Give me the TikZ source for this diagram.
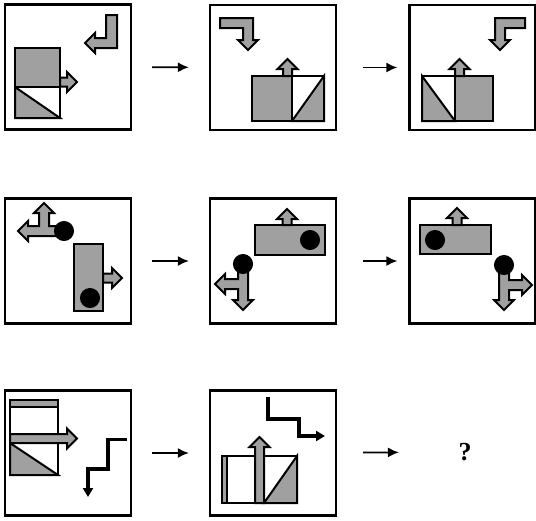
\documentclass[tikz,border=0pt]{standalone}
\usepackage{fontspec}
\setmainfont{Liberation Serif}
\usetikzlibrary{arrows.meta}
\definecolor{tilegray}{RGB}{160,160,160}

\begin{document}
\begin{tikzpicture}[x=1pt, y=-1pt,
    panel/.style={draw, line width=2.2pt, minimum width=126pt, minimum height=125pt, inner sep=0pt},
    piece/.style={draw, fill=tilegray, line width=2pt, line join=miter},
    hole/.style={draw, fill=white, line width=2pt},
    blob/.style={draw, fill=black, line width=1pt},
    stair/.style={line width=3.8pt, -{Triangle[length=9pt,width=10pt]}},
    flow/.style={-{Latex[length=11pt,width=10pt]}, line width=1.8pt, shorten <=20pt, shorten >=20pt},
    fatarrow/.pic={\draw[piece] (0,-4.5) -- ({#1-10},-4.5) -- ({#1-10},-10) -- (#1,0) -- ({#1-10},10) -- ({#1-10},4.5) -- (0,4.5) -- cycle;}
]
\useasboundingbox (0,0) rectangle (536,520);

% panels
\node[panel] (a1) at (68,67) {};
\node[panel] (a2) at (273,67.5) {};
\node[panel] (a3) at (472.5,67.5) {};
\node[panel] (b1) at (68,261) {};
\node[panel] (b2) at (273,261) {};
\node[panel] (b3) at (472.5,261) {};
\node[panel] (c1) at (68,453) {};
\node[panel] (c2) at (273,453) {};
\node[font=\fontsize{26}{30}\selectfont\bfseries] (c3) at (465,452) {?};

% row 1
\draw[piece] (15,48) rectangle (60,87);
\draw[hole] (15,87) rectangle (60,118);
\draw[piece] (15,87) -- (60,118) -- (15,118) -- cycle;
\pic at (60,82) {fatarrow=17};
\draw[piece] (106,15) -- (117,15) -- (117,48) -- (95,48) -- (95,53) -- (85,43) -- (95,33) -- (95,38) -- (106,38) -- cycle;

\draw[piece] (252,76) rectangle (292,121);
\draw[hole] (292,76) rectangle (324,121);
\draw[piece] (292,121) -- (324,76) -- (324,121) -- cycle;
\pic[rotate=90] at (287.5,76) {fatarrow=17};
\draw[piece] (220,18) -- (253,18) -- (253,40) -- (258,40) -- (248,50) -- (238,40) -- (243,40) -- (243,28) -- (220,28) -- cycle;

\draw[hole] (422,76) rectangle (455,121);
\draw[piece] (422,76) -- (455,121) -- (422,121) -- cycle;
\draw[piece] (455,76) rectangle (493,121);
\pic[rotate=90] at (459.5,76) {fatarrow=17};
\draw[piece] (525,18) -- (495,18) -- (495,40) -- (490,40) -- (500,50) -- (510,40) -- (505,40) -- (505,28) -- (525,28) -- cycle;

% row 2
\draw[piece] (64,226) -- (49,226) -- (49,213) -- (54,213) -- (44,203) -- (34,213) -- (39,213) -- (39,226) -- (28,226) -- (28,221) -- (18,231) -- (28,241) -- (28,236) -- (64,236) -- cycle;
\draw[blob] (64,231) circle (9.5);
\draw[piece] (74,244) rectangle (103,311);
\draw[blob] (90,298) circle (9.5);
\pic at (103,278) {fatarrow=19};

\draw[piece] (255,225) rectangle (325,255);
\draw[blob] (310,240) circle (9.5);
\pic[rotate=90] at (287,225) {fatarrow=16};
\draw[piece] (238,264) -- (248,264) -- (248,300) -- (253,300) -- (243,310) -- (233,300) -- (238,300) -- (238,289) -- (225,289) -- (225,294) -- (215,284) -- (225,274) -- (225,279) -- (238,279) -- cycle;
\draw[blob] (243,264) circle (9.5);

\draw[piece] (420,225) rectangle (491,254);
\draw[blob] (435,240) circle (9.5);
\pic[rotate=90] at (457,225) {fatarrow=17};
\draw[piece] (499,265) -- (509,265) -- (509,280) -- (522,280) -- (522,275) -- (532,285) -- (522,295) -- (522,290) -- (509,290) -- (509,300) -- (514,300) -- (504,310) -- (494,300) -- (499,300) -- cycle;
\draw[blob] (504,265) circle (9.5);

% row 3
\draw[piece] (10,400) rectangle (58,407);
\draw[hole] (10,407) rectangle (58,443);
\draw[hole] (10,443) rectangle (58,475);
\draw[piece] (10,443) -- (58,475) -- (10,475) -- cycle;
\pic at (10,438.5) {fatarrow=67};
\draw[stair] (127,439.5) -- (108,439.5) -- (108,469) -- (88,469) -- (88,497);

\draw[piece] (222,456) rectangle (227,503);
\draw[hole] (227,456) rectangle (264,503);
\draw[hole] (264,456) rectangle (297,503);
\draw[piece] (264,503) -- (297,456) -- (297,503) -- cycle;
\pic[rotate=90] at (259.5,503) {fatarrow=66};
\draw[stair] (268,397) -- (268,419) -- (299,419) -- (299,436) -- (325,436);

% sequence arrows
\draw[flow] (a1) -- (a2);
\draw[flow, shorten <=26pt, shorten >=11pt] (a2) -- (a3);
\draw[flow] (b1) -- (b2);
\draw[flow, shorten <=26pt, shorten >=11pt] (b2) -- (b3);
\draw[flow] (c1) -- (c2);
\draw[flow, shorten <=26pt, shorten >=56pt] (c2) -- (c3);
\end{tikzpicture}
\end{document}
